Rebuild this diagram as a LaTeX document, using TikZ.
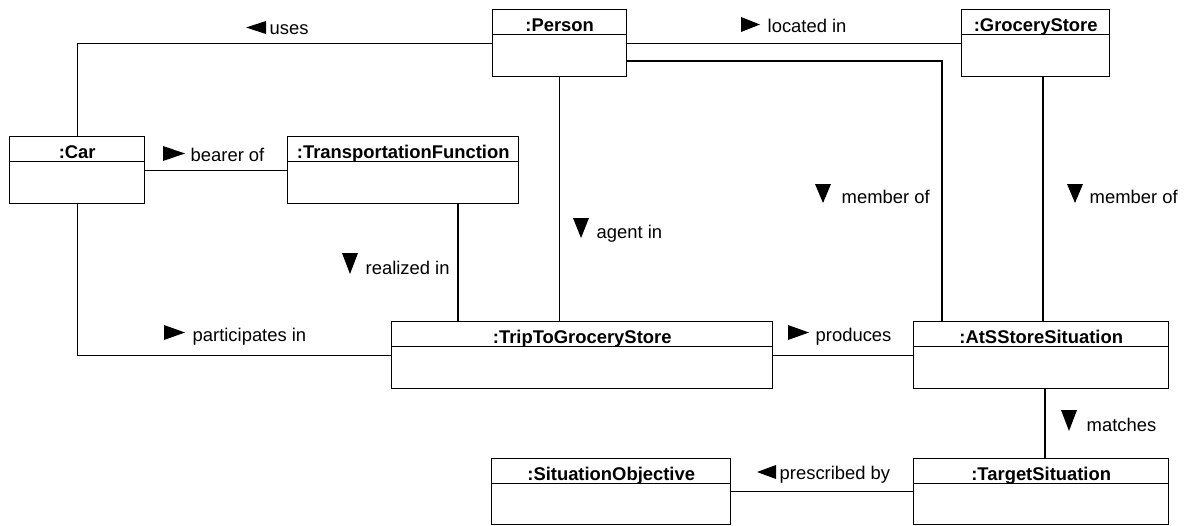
\documentclass[tikz,border=0pt]{standalone}
\usepackage{fontspec}
\setmainfont{Liberation Sans}
\usepackage{tikz}

\begin{document}
\begin{tikzpicture}[x=0.5pt, y=-0.5pt, line width=0.7pt,
        obj/.style={draw, anchor=north west, inner sep=0pt, minimum height=33.5pt},
        title/.style={anchor=base, inner sep=0pt, font=\fontsize{9.2}{11}\selectfont\bfseries},
        lbl/.style={anchor=base west, inner sep=0pt, font=\fontsize{9.2}{11}\selectfont}]

            \useasboundingbox (0,0) rectangle (1187,525);

            % object boxes
            \node[obj, minimum width=67pt] (person) at (492,9) {};
            \node[obj, minimum width=74pt] (grocery) at (961,9) {};
            \node[obj, minimum width=67.5pt] (car) at (9,136) {};
            \node[obj, minimum width=115.5pt] (tf) at (287,136) {};
            \node[obj, minimum width=190.5pt] (trip) at (391,321) {};
            \node[obj, minimum width=127.5pt] (ats) at (913,321) {};
            \node[obj, minimum width=119.5pt, minimum height=33pt] (so) at (491,458) {};
            \node[obj, minimum width=127.5pt, minimum height=33pt] (ts) at (913,458) {};

            % header lines
            \draw ([yshift=-12.75pt]person.north west) -- ([yshift=-12.75pt]person.north east);
            \draw ([yshift=-12.75pt]grocery.north west) -- ([yshift=-12.75pt]grocery.north east);
            \draw ([yshift=-12.75pt]car.north west) -- ([yshift=-12.75pt]car.north east);
            \draw ([yshift=-12.75pt]tf.north west) -- ([yshift=-12.75pt]tf.north east);
            \draw ([yshift=-12.75pt]trip.north west) -- ([yshift=-12.75pt]trip.north east);
            \draw ([yshift=-12.75pt]ats.north west) -- ([yshift=-12.75pt]ats.north east);
            \draw ([yshift=-12.75pt]so.north west) -- ([yshift=-12.75pt]so.north east);
            \draw ([yshift=-12.75pt]ts.north west) -- ([yshift=-12.75pt]ts.north east);

            % titles
            \node[title] (personT) at ([yshift=-11pt]person.north) {:Person};
            \node[title] (groceryT) at ([yshift=-11pt]grocery.north) {:GroceryStore};
            \node[title] (carT) at ([yshift=-11pt]car.north) {:Car};
            \node[title] (tfT) at ([yshift=-11pt]tf.north) {:TransportationFunction};
            \node[title] (tripT) at ([yshift=-11pt]trip.north) {:TripToGroceryStore};
            \node[title] (atsT) at ([yshift=-11pt]ats.north) {:AtSStoreSituation};
            \node[title] (soT) at ([yshift=-11pt]so.north) {:SituationObjective};
            \node[title] (tsT) at ([yshift=-11pt]ts.north) {:TargetSituation};

            % links
            \coordinate (m1) at (942,61);
            \coordinate (m2) at (1043,0);
            \coordinate (m3) at (1045,0);
            \coordinate (r1) at (458,0);

            \draw (person.west) -| (car.north);
            \draw (person.east) -- (grocery.west);
            \draw (person.east |- m1) -| (ats.north -| m1);
            \draw (grocery.south -| m2) -- (ats.north -| m2);
            \draw (car.east) -- (tf.west);
            \draw (person.south) -- (trip.north -| person.south);
            \draw (tf.south -| r1) -- (trip.north -| r1);
            \draw (car.south) |- (trip.west);
            \draw (trip.east) -- (ats.west);
            \draw (ats.south -| m3) -- (ts.north -| m3);
            \draw (ts.west) -- (so.east);

            % link names
            \fill (266,21) -- (246,27.5) -- (266,34) -- cycle;
            \node[lbl] (usesL) at (269,34) {uses};

            \fill (741,17) -- (760,24.5) -- (741,32) -- cycle;
            \node[lbl] (locL) at (767,32) {located in};

            \fill (163,146) -- (185,153.5) -- (163,161) -- cycle;
            \node[lbl] (bearL) at (190,161) {bearer of};

            \fill (342,253) -- (358,253) -- (350,274) -- cycle;
            \node[lbl] (realL) at (365,274) {realized in};

            \fill (573,218) -- (589,218) -- (581,238) -- cycle;
            \node[lbl] (agentL) at (596,238) {agent in};

            \fill (815,184) -- (831,184) -- (823,203) -- cycle;
            \node[lbl] (memL) at (841,203) {member of};

            \fill (1067,184) -- (1083,184) -- (1075,203) -- cycle;
            \node[lbl] (memL2) at (1089,203) {member of};

            \fill (164,325) -- (185,332.5) -- (164,340) -- cycle;
            \node[lbl] (partL) at (192,341) {participates in};

            \fill (788,325) -- (809,332.5) -- (788,340) -- cycle;
            \node[lbl] (prodL) at (815,341) {produces};

            \fill (1061,410) -- (1077,410) -- (1069,431) -- cycle;
            \node[lbl] (matchL) at (1086,431) {matches};

            \fill (776,465) -- (757,472) -- (776,479) -- cycle;
            \node[lbl] (prescL) at (779,479) {prescribed by};

        \end{tikzpicture}
\end{document}
